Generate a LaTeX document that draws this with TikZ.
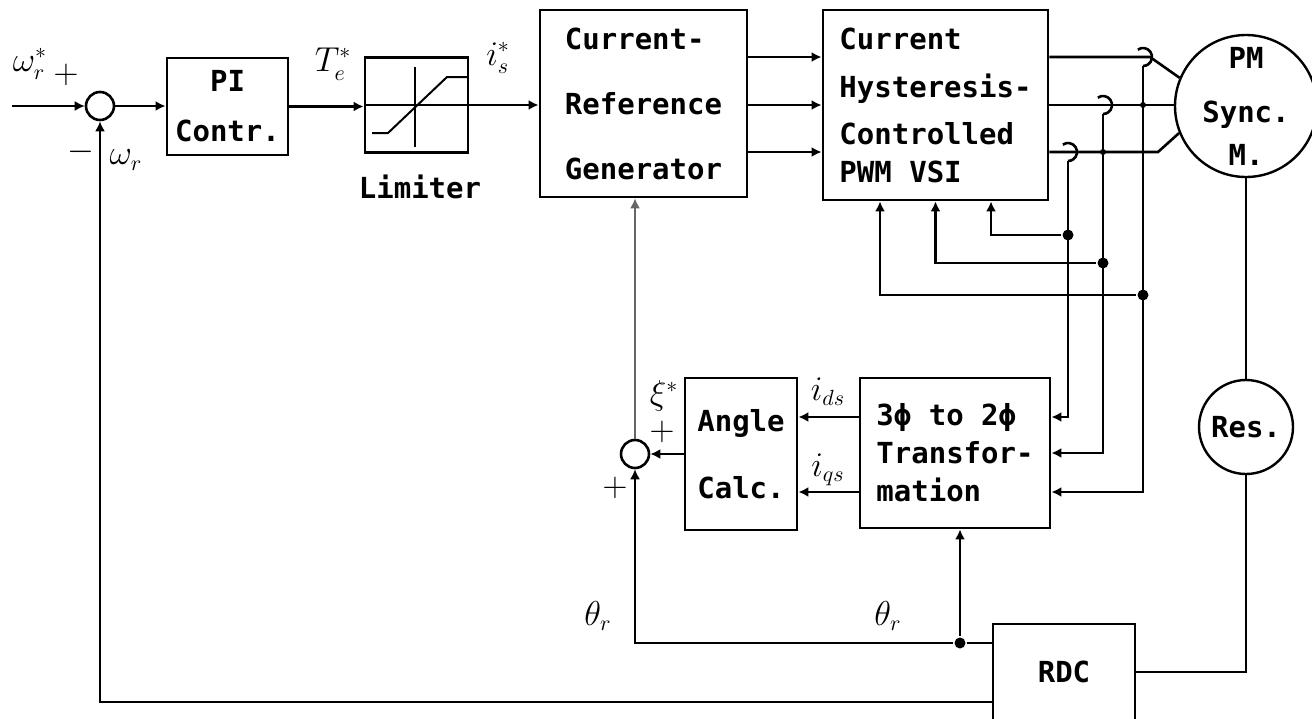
\documentclass[tikz,border=0pt]{standalone}
\usepackage{fontspec}
\setmonofont{DejaVu Sans Mono}
\usetikzlibrary{arrows.meta, positioning, calc}

\newcommand{\blockfont}{\fontsize{14.5}{17.5}\selectfont\ttfamily\bfseries}
\newcommand{\signalfont}{\fontsize{16}{18}\selectfont}

\begin{document}
\begin{tikzpicture}[x=0.5pt, y=-0.5pt, line width=1.3pt,
        block/.style={rectangle, draw, line width=1.4pt, inner sep=0pt, font=\blockfont},
        junction/.style={circle, draw, line width=1.3pt, inner sep=0pt, minimum size=14pt},
        machine/.style={circle, draw, line width=1.2pt, inner sep=0pt},
        tag/.style={inner sep=0pt, font=\signalfont},
        dot/.style={circle, fill, inner sep=0pt, minimum size=5.5pt},
        arrow/.style={-{Latex[length=5pt,width=5pt]}},
        thinline/.style={line width=0.8pt}
    ]
        \useasboundingbox (0,0) rectangle (1312,718);

        % Speed loop
        \coordinate (in) at (12,106);
        \node[junction] (sum1) at (100,106) {};
        \node[block, minimum width=60.5pt, minimum height=48.5pt, align=center] (pi) at (227.5,106.5) {PI\\[7.5pt]Contr.};
        \node[block, minimum width=51.5pt, minimum height=47.5pt] (lim) at (416.5,105) {};
        \node[tag, font=\blockfont] (limtxt) at (420,187) {Limiter};

        % Limiter characteristic
        \begin{scope}[shift={(lim.center)}, line width=1pt]
            \draw (-51.5,0) -- (51.5,0);
            \draw (-1.5,-38) -- (-1.5,42);
            \draw (-44.5,28) -- (-28.5,28) -- (30.5,-28) -- (51.5,-28);
        \end{scope}

        % Current control
        \node[block, minimum width=103.5pt, minimum height=93.5pt, align=left] (crg) at (643.5,103.5) {Current-\\[15pt]Reference\\[15pt]Generator};
        \node[block, minimum width=112.5pt, minimum height=95pt, align=left] (vsi) at (935.5,105) {Current\\[6.5pt]Hysteresis-\\[6pt]Controlled\\[1.5pt]PWM VSI};

        % Machine, resolver, RDC
        \node[machine, minimum size=71pt] (motor) at (1246,106) {};
        \node[tag, font=\blockfont, align=center] (motortxt) at (motor) {PM\\[9.5pt]Sync.\\[4pt]M.};
        \node[machine, minimum size=47pt, font=\blockfont] (res) at (1246,427) {Res.};
        \node[block, minimum width=71pt, minimum height=48pt] (rdc) at (1064,672) {RDC};

        % Angle loop
        \node[junction] (sum2) at (635,454) {};
        \node[block, minimum width=56pt, minimum height=76pt, align=center] (angle) at (741,454) {Angle\\[16pt]Calc.};
        \node[block, minimum width=95pt, minimum height=75pt, align=left] (trans) at (955,453) {3ϕ to 2ϕ\\[1.5pt]Transfor-\\[1.5pt]mation};

        % Levels and taps
        \coordinate (ya) at (0,57);
        \coordinate (yb) at (0,105);
        \coordinate (yc) at (0,152);
        \coordinate (ta) at (0,492);
        \coordinate (tb) at (0,453);
        \coordinate (tc) at (0,417);
        \coordinate (yfb) at (0,702);
        \coordinate (ha) at (1143,57);
        \coordinate (hb) at (1103,105);
        \coordinate (hc) at (1068,152);
        \node[dot] (da) at (1143,295) {};
        \node[dot] (db) at (1103,263) {};
        \node[dot] (dc) at (1068,235) {};
        \node[dot] (jth) at (960,643) {};
        \node[dot, minimum size=3pt] (xa) at (ha |- yb) {};
        \node[dot, minimum size=3pt] (xb) at (hb |- yc) {};

        % Forward connections
        \draw[arrow, thinline] (in) -- (sum1.west);
        \draw[arrow] (sum1.east) -- (pi.west |- sum1.east);
        \draw[arrow] (pi.east) -- (lim.west |- pi.east);
        \draw[arrow] (lim.east) -- (crg.west |- lim.east);
        \foreach \lv in {ya,yb,yc}
            \draw[arrow] (crg.east |- \lv) -- (vsi.west |- \lv);

        % Phase lines
        \draw (vsi.east |- ya) -- ($(ha)+(7,0)$) -- (motor.157);
        \draw (vsi.east |- yb) -- (motor.west |- yb);
        \draw (vsi.east |- yc) -- ($(hc)+(90,0)$) -- (motor.202);
        \foreach \h in {ha,hb,hc}
            \draw ($(\h)+(125:4.5pt)$) arc[start angle=125, end angle=-90, radius=4.5pt];

        % Current feedback
        \draw[arrow] ($(hc)+(0,9)$) |- (trans.east |- tc);
        \draw[arrow] ($(hb)+(0,9)$) |- (trans.east |- tb);
        \draw[arrow] ($(ha)+(0,9)$) |- (trans.east |- ta);
        \draw[arrow] (dc) -| ($(vsi.south)+(55.5,0)$);
        \draw[arrow] (db) -| (vsi.south);
        \draw[arrow] (da) -| ($(vsi.south)+(-55.5,0)$);

        % Position feedback
        \draw (motor.south) -- (res.north);
        \draw (res.south) |- (rdc.east);
        \draw[arrow] (rdc.west |- yfb) -| (sum1.south);
        \draw (rdc.west |- jth) -- (jth);
        \draw[arrow, thinline] (jth) -| (sum2.south);
        \draw[arrow] (jth) -- (jth |- trans.south);
        \draw[arrow, thinline, draw=black!60] (sum2.north) -- (sum2.north |- crg.south);
        \draw[arrow] (angle.west) -- (sum2.east);
        \draw[arrow] (trans.west |- tc) -- (angle.east |- tc);
        \draw[arrow] (trans.west |- ta) -- (angle.east |- ta);

        % Signal labels
        \node[tag] (wreftxt) at (30,64) {$\omega_r^{*}$};
        \node[tag] (plusa) at (66,75) {$+$};
        \node[tag] (minusa) at (81,152) {$-$};
        \node[tag] (wtxt) at (126,160) {$\omega_r$};
        \node[tag] (tetxt) at (333,64) {$T_e^{*}$};
        \node[tag] (istxt) at (498,58) {$i_s^{*}$};
        \node[tag] (xitxt) at (664,396) {$\xi^{*}$};
        \node[tag] (plusb) at (662,432) {$+$};
        \node[tag] (plusc) at (615,488) {$+$};
        \node[tag] (thtxta) at (598,616) {$\theta_r$};
        \node[tag] (thtxtb) at (888,616) {$\theta_r$};
        \node[tag] (idtxt) at (828,392) {$i_{ds}$};
        \node[tag] (iqtxt) at (828,470) {$i_{qs}$};

    \end{tikzpicture}
\end{document}
